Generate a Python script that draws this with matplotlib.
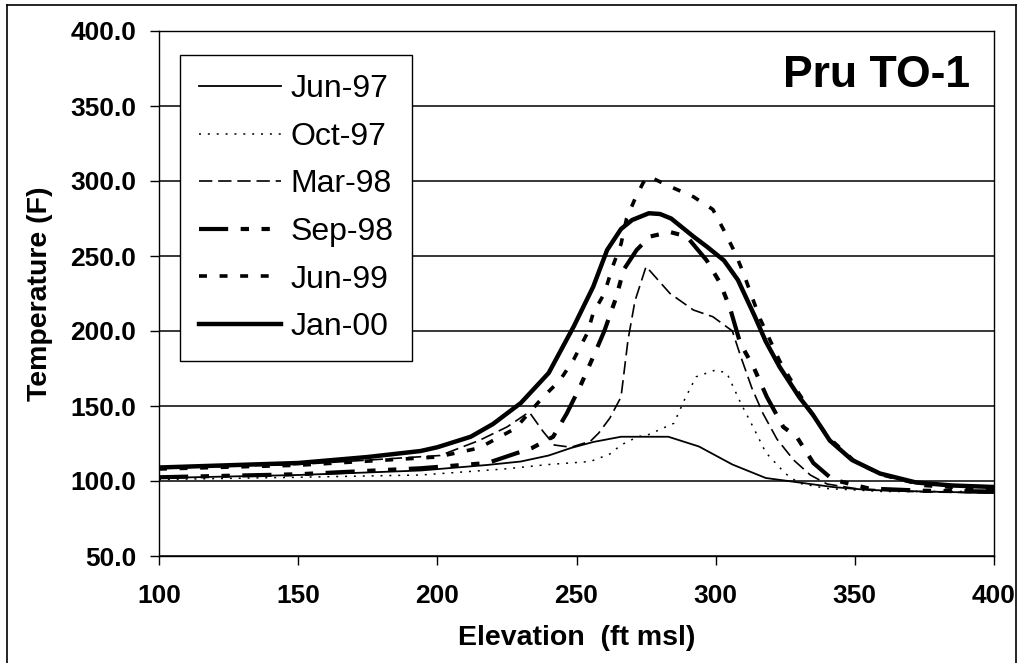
import matplotlib
matplotlib.use("Agg")
import matplotlib.pyplot as plt
from matplotlib.lines import Line2D
from matplotlib.ticker import FormatStrFormatter

plt.rcParams['font.family'] = ['Liberation Sans', 'DejaVu Sans']

# ---------------- data ----------------
series_labels = ["Jun-97", "Oct-97", "Mar-98", "Sep-98", "Jun-99", "Jan-00"]

jun97_x = [100, 150, 194, 205, 218, 230, 240, 248, 256, 266, 283, 294, 306, 318, 330, 342, 355, 375, 400]
jun97_y = [102, 104, 107, 108.7, 110.7, 113, 117, 122, 126, 129.5, 129.5, 123, 111, 102, 99, 96, 94, 93, 92]

oct97_x = [100, 150, 194, 224, 240, 255, 262, 266, 272, 276, 285, 289, 293, 300, 304, 309, 314, 318, 325, 330, 340, 360, 400]
oct97_y = [101, 102.5, 104, 108, 111, 113, 118, 124, 129.5, 131, 138.5, 155, 169.5, 174, 172, 152, 134, 119, 105, 98.5, 95, 93, 93]

mar98_x = [100, 150, 201, 215, 225, 233, 238, 242, 248, 255, 258, 262, 266, 268.5, 271, 275, 283.6, 292, 299, 306, 309, 313, 317, 322, 328, 334, 340, 350, 370, 400]
mar98_y = [108.5, 111, 117, 127, 136, 146, 133, 124, 122.5, 126.5, 132, 142, 156, 194, 220, 243, 225, 214, 209.5, 200, 183, 162, 145, 128, 114, 104, 98, 95, 93, 92]

sep98_x = [100, 150, 194, 218, 234, 241.6, 246.5, 251.3, 257, 260, 264, 267, 271.6, 276.4, 283.6, 289.6, 296.8, 301.6, 305.2, 308.8, 313.6, 318.4, 324.3, 329.1, 335.1, 342, 355, 375, 400]
sep98_y = [102.5, 104.5, 108.5, 112, 122, 129.5, 145, 163, 187, 200, 221, 241, 254, 263, 266, 263, 247, 232, 215, 192, 176, 156, 136, 129.5, 112, 101, 95, 93.5, 93]

jun99_x = [100, 150, 200, 215, 228, 238, 244, 249, 254, 256, 260, 263, 266, 268, 271, 274, 276, 284, 292, 299, 303, 307, 310, 313, 316, 323, 330, 340, 350, 360, 375, 400]
jun99_y = [108, 110.5, 116, 122, 135, 156, 167, 181, 199, 212, 225, 243, 258, 275, 288, 299, 303, 296, 289.5, 281, 267, 252, 238.5, 223, 208, 180, 158, 130, 113, 104, 97, 94]

jan00_x = [100, 125, 150, 175, 194, 200, 212, 220, 230, 240, 249, 256, 261, 266, 270, 276, 280, 284, 292, 297, 303, 308, 314, 318, 323, 330, 335, 341, 349, 359, 372, 385, 400]
jan00_y = [109, 110.5, 112, 116, 120, 122.5, 129.5, 138, 152, 172, 203, 229.5, 254, 268, 274, 278.5, 278, 275, 263, 256, 247, 234, 210, 193, 176, 156, 144, 127, 114, 105, 99, 97, 96]

x_ticks = [100, 150, 200, 250, 300, 350, 400]
y_ticks = [50, 100, 150, 200, 250, 300, 350, 400]

# ---------------- figure ----------------
W, H = 1022, 663
fig = plt.figure(figsize=(W / 100, H / 100), dpi=100)
fig.patch.set_facecolor('white')
ax = fig.add_axes([159 / W, (H - 556) / H, 835 / W, 525 / H])

ax.set_xlim(100, 400)
ax.set_ylim(50, 400)
ax.set_xticks(x_ticks)
ax.set_yticks(y_ticks)
ax.yaxis.set_major_formatter(FormatStrFormatter('%.1f'))
ax.yaxis.grid(True, color='black', linewidth=1.1)
ax.set_axisbelow(True)
for s in ax.spines.values():
    s.set_color('black')
    s.set_linewidth(1.0)

ax.tick_params(axis='both', direction='out', length=6.5, width=1.0, labelsize=19, colors='black')
ax.tick_params(axis='y', pad=10)
ax.tick_params(axis='x', pad=14)
for lab in ax.get_xticklabels() + ax.get_yticklabels():
    lab.set_fontweight('bold')

k = 'black'
ax.plot(jun97_x, jun97_y, color=k, lw=1.3, ls='-', label=series_labels[0])
ax.plot(oct97_x, oct97_y, color=k, lw=1.1, ls=(0, (1.3, 4.5)), label=series_labels[1])
ax.plot(mar98_x, mar98_y, color=k, lw=1.2, ls=(0, (8, 3.5)), label=series_labels[2])
ax.plot(sep98_x, sep98_y, color=k, lw=3.0, ls=(0, (7, 3, 2, 3, 2, 3)), label=series_labels[3])
ax.plot(jun99_x, jun99_y, color=k, lw=2.6, ls=(0, (2.2, 3.5)), label=series_labels[4])
ax.plot(jan00_x, jan00_y, color=k, lw=3.2, ls='-', label=series_labels[5])

ax.set_xlabel('Elevation  (ft msl)', fontsize=20.5, fontweight='bold', labelpad=12)
ax.set_ylabel('Temperature (F)', fontsize=20.5, fontweight='bold', labelpad=12)

leg = ax.legend(loc='upper left', bbox_to_anchor=(0.025, 0.954), borderaxespad=0,
                fontsize=23, handlelength=2.55, handletextpad=0.3, labelspacing=0.55,
                borderpad=0.6, fancybox=False, frameon=True, framealpha=1)
leg.get_frame().set_edgecolor('black')
leg.get_frame().set_linewidth(1.0)

ax.text(0.971, 0.916, 'Pru TO-1', transform=ax.transAxes, ha='right', va='center',
        fontsize=32, fontweight='bold')

# outer frame
fr = dict(transform=fig.transFigure, color='black', lw=1.2)
fig.add_artist(Line2D([7 / W, 7 / W], [0, 1 - 5 / H], **fr))
fig.add_artist(Line2D([7 / W, 1016 / W], [1 - 5 / H, 1 - 5 / H], **fr))
fig.add_artist(Line2D([1016 / W, 1016 / W], [0, 1 - 5 / H], **fr))

fig.savefig('out.png', dpi=100)
